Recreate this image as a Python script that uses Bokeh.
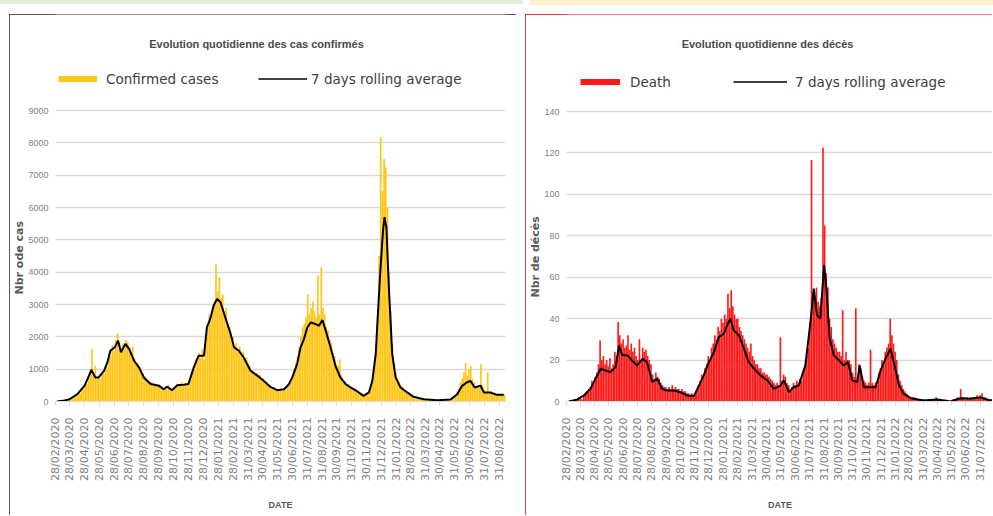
import math
from datetime import date, datetime
from bokeh.plotting import figure
from bokeh.models import Range1d, FixedTicker, Legend, LegendItem, Label, Title
from bokeh.layouts import row
from bokeh.embed import file_html
from bokeh.resources import INLINE

START = date(2020, 2, 28)
BAR_DAYS = 3.5  # each bar covers half a week

tick_labels = ["28/02/2020", "28/03/2020", "28/04/2020", "28/05/2020", "28/06/2020",
               "28/07/2020", "28/08/2020", "28/09/2020", "28/10/2020", "28/11/2020",
               "28/12/2020", "28/01/2021", "28/02/2021", "31/03/2021", "30/04/2021",
               "31/05/2021", "30/06/2021", "31/07/2021", "31/08/2021", "30/09/2021",
               "31/10/2021", "30/11/2021", "31/12/2021", "31/01/2022", "28/02/2022",
               "31/03/2022", "30/04/2022", "31/05/2022", "30/06/2022", "31/07/2022",
               "31/08/2022"]

cases_bars = [
    0, 5, 8, 15, 20, 35, 40, 60, 55, 90,
    100, 160, 180, 260, 250, 380, 380, 520, 540, 760,
    1000, 1620, 850, 1100, 700, 800, 680, 900, 850, 1100,
    1050, 1400, 1400, 1750, 1550, 1900, 2100, 1700, 1500, 1800,
    1600, 1900, 1850, 1600, 1500, 1700, 1350, 1150, 1200, 1000,
    1050, 880, 800, 680, 650, 580, 600, 500, 560, 480,
    530, 450, 470, 400, 420, 360, 520, 400, 400, 340,
    480, 560, 540, 480, 600, 470, 560, 500, 650, 700,
    900, 1100, 1300, 1250, 1500, 1350, 1600, 1300, 2000, 2300,
    2700, 2500, 2900, 3100, 4260, 3400, 3850, 3200, 3300, 2800,
    2900, 2400, 2300, 2000, 2000, 1700, 1800, 1550, 1700, 1450,
    1550, 1300, 1350, 1150, 1100, 950, 980, 850, 900, 760,
    820, 700, 720, 620, 600, 520, 500, 430, 440, 370,
    390, 330, 380, 340, 420, 360, 480, 520, 700, 800,
    1000, 1200, 1400, 1700, 2000, 2300, 2400, 2600, 3320, 2700,
    2900, 3100, 2800, 2600, 3900, 2700, 4150, 2900, 2700, 2300,
    2200, 1900, 1800, 1500, 1400, 1150, 1100, 1300, 800, 650,
    620, 520, 520, 440, 460, 390, 400, 330, 330, 270,
    250, 210, 200, 240, 350, 450, 700, 1000, 1500, 2600,
    4500, 8170, 6500, 7500, 7240, 6000, 4000, 2800, 1800, 1200,
    900, 700, 600, 480, 450, 360, 330, 270, 230, 180,
    160, 120, 110, 90, 90, 70, 80, 65, 65, 55,
    55, 45, 50, 40, 45, 38, 50, 42, 55, 48,
    60, 52, 80, 100, 150, 180, 300, 400, 600, 700,
    900, 1200, 800, 1000, 1100, 700, 600, 450, 500, 420,
    1155, 500, 350, 280, 900, 300, 320, 260, 280, 220,
    240, 190, 230, 200, 220, 190]

cases_avg_day = [3, 15, 29, 45, 60, 69, 74, 82, 89, 100,
                 107, 113, 122, 129, 135, 144, 152, 162, 172, 182,
                 196, 213, 223, 230, 240, 251, 264, 274, 285, 295,
                 306, 312, 319, 326, 333, 340, 350, 361, 368, 378,
                 388, 402, 416, 429, 443, 457, 471, 481, 488, 498,
                 505, 512, 519, 526, 536, 543, 550, 556, 567, 577,
                 587, 598, 608, 622, 635, 646, 653, 660, 666, 670,
                 675, 678, 682, 687, 694, 701, 711, 725, 738, 759,
                 787, 814, 828, 838, 848, 855, 864, 876, 883, 896,
                 910, 924]
cases_avg = [0, 20, 70, 230, 490, 800, 980, 745, 745, 950,
             1210, 1570, 1675, 1880, 1520, 1780, 1620, 1260, 1055, 745,
             540, 490, 380, 455, 350, 505, 515, 540, 1055, 1415,
             1415, 2295, 2555, 2970, 3175, 3070, 2600, 2090, 1675, 1570,
             1360, 950, 800, 640, 450, 350, 380, 535, 745, 1155,
             1670, 1930, 2290, 2445, 2395, 2340, 2520, 2240, 1670, 1105,
             745, 535, 435, 310, 175, 280, 640, 1465, 3115, 4150,
             5285, 5700, 5390, 3530, 1465, 745, 435, 280, 145, 70,
             40, 60, 225, 485, 590, 640, 435, 485, 280, 280,
             205, 205]

deaths_bars = [
    0, 0, 0, 0, 0, 1, 1, 2, 2, 1,
    3, 4, 5, 6, 7, 10, 9, 12, 14, 18,
    29.5, 20, 22, 18, 20, 17, 21, 16, 18, 24,
    22, 38.4, 32, 28, 30, 26, 27, 32, 25, 28,
    24, 26, 22, 20, 30, 20, 26, 24, 25, 22,
    20, 18, 13, 11, 14, 12, 11, 9, 8, 7,
    7, 6, 7, 6, 8, 6, 7, 6, 6, 5,
    6, 5, 5, 4, 4, 3, 4, 3, 4, 6,
    8, 10, 13, 12, 16, 18, 22, 20, 26, 28,
    32, 30, 36, 34, 40, 38, 42, 40, 52, 45,
    53.7, 46, 42, 40, 40, 36, 34, 32, 30, 28,
    26, 24, 28, 22, 20, 18, 18, 16, 16, 14,
    14, 13, 13, 12, 11, 10, 9, 8, 9, 8,
    31, 10, 13, 12, 9, 8, 6, 7, 9, 8,
    10, 9, 11, 10, 15, 18, 22, 26, 38, 116.6,
    52, 50, 55, 48, 46, 50, 122.6, 85, 62, 55,
    40, 36, 30, 28, 26, 24, 24, 22, 44, 20,
    24, 20, 20, 18, 14, 12, 45, 12, 18, 16,
    12, 10, 9, 8, 9, 25, 9, 8, 9, 8,
    14, 16, 20, 18, 24, 26, 28, 40, 32, 28,
    24, 20, 13, 10, 8, 6, 5, 4, 3, 2,
    2, 2, 2, 1, 1, 1, 1, 1, 1, 0,
    1, 1, 1, 1, 1, 2, 1, 1, 1, 0,
    0, 1, 0, 0, 0, 1, 1, 1, 2, 1,
    6, 2, 2, 1, 2, 1, 2, 1, 2, 2,
    3, 2, 3, 4, 2, 2, 1, 1, 1, 1,
    1, 1, 1, 1, 1, 1]

deaths_avg_day = [5, 23, 37, 51, 62, 73, 83, 94, 105, 112,
                  119, 130, 140, 151, 162, 172, 183, 194, 204, 215,
                  229, 243, 258, 272, 283, 293, 304, 315, 325, 336,
                  343, 350, 357, 368, 379, 389, 400, 414, 429, 443,
                  457, 464, 475, 485, 496, 510, 521, 528, 535, 542,
                  550, 555, 562, 571, 582, 592, 601, 610, 621, 626,
                  635, 649, 660, 671, 681, 692, 699, 710, 720, 735,
                  763, 792, 820, 841, 863, 884, 905, 912]
deaths_avg = [0, 1, 2.9, 6.1, 11, 15.8, 15, 14.2, 16.6, 27,
              22.3, 22.3, 19.8, 17.4, 20.6, 19, 9.4, 11, 6.1, 5.3,
              5.3, 4.5, 2.9, 2.6, 7.7, 12.6, 19, 23.9, 31, 32.7,
              36.8, 40, 34.4, 32, 25.5, 19, 16, 12.6, 10.2, 6.1,
              7.7, 10.2, 4.5, 6.9, 7.7, 17.4, 38.4, 54.5, 41.6, 40,
              65.8, 54.5, 30.3, 22.3, 19.8, 17.4, 19, 10.2, 9.4, 17.4,
              6.9, 6.9, 6.9, 15, 20.6, 25.5, 19, 7.7, 3.7, 1.6,
              0.5, 1, 0, 1.6, 1.3, 2, 0.5, 0.8]

tick_pos = [(datetime.strptime(t, "%d/%m/%Y").date() - START).days for t in tick_labels]

SANS = "Liberation Sans"
WIDE = "DejaVu Sans"


def panel(w, h, borders, xmax, ytop, ymax, ystep, bars, bar_color, avg_x, avg_y,
          title, title_xy, ylab, ylab_offset, leg1_text, leg1_xy, leg1_w, leg1_sd,
          leg2_xy, leg2_w, leg2_sd):
    ml, mr, mt, mb = borders
    p = figure(width=w, height=h, output_backend="svg", toolbar_location=None,
               title=None, x_range=Range1d(0, xmax), y_range=Range1d(0, ytop),
               min_border_left=ml, min_border_right=mr,
               min_border_top=mt, min_border_bottom=mb)
    p.outline_line_color = None
    p.background_fill_color = "white"
    p.border_fill_color = "white"
    p.xgrid.grid_line_color = None
    p.ygrid.grid_line_color = "#d9d9d9"
    p.ygrid.grid_line_width = 1.5

    p.yaxis.ticker = FixedTicker(ticks=list(range(0, ymax + 1, ystep)))
    p.yaxis.axis_line_color = None
    p.yaxis.major_tick_line_color = None
    p.yaxis.minor_tick_line_color = None
    p.yaxis.major_tick_out = 0
    p.yaxis.major_tick_in = 0
    p.yaxis.minor_tick_out = 0
    p.yaxis.major_label_standoff = 7
    p.yaxis.major_label_text_font = SANS
    p.yaxis.major_label_text_font_size = "9px"
    p.yaxis.major_label_text_color = "#7f7f7f"

    p.xaxis.ticker = FixedTicker(ticks=tick_pos)
    p.xaxis.major_label_overrides = {pos: lab for pos, lab in zip(tick_pos, tick_labels)}
    p.xaxis.major_label_orientation = math.pi / 2
    p.xaxis.axis_line_color = "#d9d9d9"
    p.xaxis.major_tick_line_color = "#d9d9d9"
    p.xaxis.major_tick_out = 4
    p.xaxis.major_tick_in = 0
    p.xaxis.minor_tick_line_color = None
    p.xaxis.minor_tick_out = 0
    p.xaxis.major_label_standoff = 12
    p.xaxis.major_label_text_font = WIDE
    p.xaxis.major_label_text_font_size = "11px"
    p.xaxis.major_label_text_color = "#7f7f7f"
    p.xaxis.axis_label = "DATE"
    p.xaxis.axis_label_standoff = 16
    p.xaxis.axis_label_text_font = SANS
    p.xaxis.axis_label_text_font_size = "9px"
    p.xaxis.axis_label_text_font_style = "bold"
    p.xaxis.axis_label_text_color = "#595959"

    xs = [BAR_DAYS * i + BAR_DAYS / 2 for i in range(len(bars))]
    p.vbar(x=xs, top=bars, width=BAR_DAYS, fill_color=bar_color, line_color=None)
    p.line(avg_x, avg_y, line_color="black", line_width=2)

    # legend-only renderers, kept below the visible range
    r1 = p.line(x=[0, 1], y=[-1000, -1000], line_color=bar_color, line_width=6,
                line_cap="butt")
    r2 = p.line(x=[0, 1], y=[-1000, -1000], line_color="black", line_width=1.5)
    for text, rend, xy, gw, sd in ((leg1_text, r1, leg1_xy, leg1_w, leg1_sd),
                                   ("7 days rolling average", r2, leg2_xy, leg2_w, leg2_sd)):
        lg = Legend(items=[LegendItem(label=text, renderers=[rend])], location=xy,
                    orientation="horizontal", glyph_width=gw, glyph_height=15,
                    label_height=15, label_standoff=sd, padding=0, margin=0,
                    border_line_color=None, background_fill_alpha=0,
                    label_text_font=WIDE, label_text_font_size="13.5px",
                    label_text_color="#404040")
        p.add_layout(lg)

    p.add_layout(Label(x=title_xy[0], y=title_xy[1], x_units="screen", y_units="screen",
                       text=title, text_align="center", text_baseline="middle",
                       text_font=SANS, text_font_size="11px", text_font_style="bold",
                       text_color="#4a4a4a"))
    yt = Title(text=ylab, align="left", offset=ylab_offset, standoff=0,
               text_font=WIDE, text_font_size="11px", text_font_style="bold",
               text_color="#595959")
    p.add_layout(yt, "left")
    return p


# left chart: frame spans page y 14..401, 9000 sits at y 110
p1 = panel(507, 502, (46, 11, 0, 115), 450 / 0.4852, 9000 * 387 / 291, 9000, 1000,
           cases_bars, "#FFC61A", cases_avg_day, cases_avg,
           "Evolution quotidienne des cas confirmés", (201, 358),
           "Nbr ode cas", 107,
           "Confirmed cases", (3, 314.5), 39, 9, (203, 314.5), 49, 4)
p1.margin = (14, 0, 0, 9)
p1.styles = {"outline": "1px solid #222", "outline-offset": "-1px",
             "clip-path": "inset(0 0 1px 0)"}

# right chart: frame spans page y 14..401, 140 sits at y 111
p2 = panel(468, 502, (41, 0, 0, 115), 427 / 0.4683, 140 * 387 / 290, 140, 20,
           deaths_bars, "#FF1A1A", deaths_avg_day, deaths_avg,
           "Evolution quotidienne des décès", (201, 358),
           "Nbr de décès", 104,
           "Death", (14, 311.5), 40, 10, (167, 311.5), 54, 8)
p2.margin = (14, 0, 0, 9)
p2.styles = {"outline": "1px solid #e00000", "outline-offset": "-1px",
             "clip-path": "inset(0 1px 1px 0)"}

layout = row(p1, p2)
# thin tinted strips along the top edge of the page, above each chart
layout.styles = {
    "background": ("linear-gradient(#e2efda, #e2efda) 0px 0px / 523px 4px no-repeat, "
                   "linear-gradient(#fff2cc, #fff2cc) 530px 0px / 463px 5px no-repeat"),
}
open("out.html", "w").write(file_html(layout, INLINE))
